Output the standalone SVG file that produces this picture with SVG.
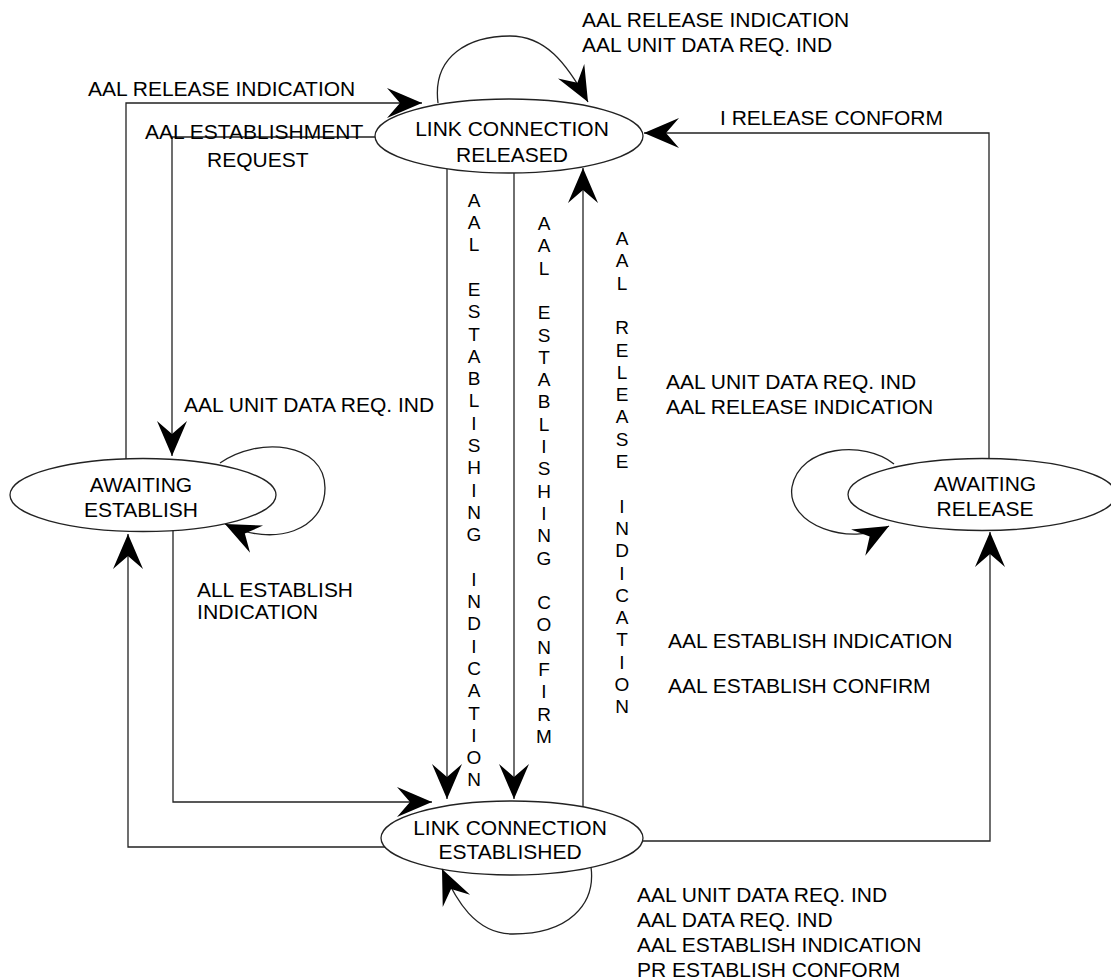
<svg xmlns="http://www.w3.org/2000/svg" width="1111" height="980" viewBox="0 0 1111 980">
<style>
text{font-family:"Liberation Sans",Arial,Helvetica,sans-serif;font-size:21px;fill:#000}
.nt{text-anchor:middle}
.sm{font-size:20px}
.v{font-size:19px;text-anchor:middle}
.node ellipse{fill:#fff;stroke:#222;stroke-width:1.3}
#connectors path{fill:none;stroke:#222;stroke-width:1.3;marker-end:url(#ah)}
</style>
<defs>
<marker id="ah" markerUnits="userSpaceOnUse" markerWidth="40" markerHeight="34" viewBox="-37 -17 40 34" refX="0" refY="0" orient="auto">
<path d="M0,0 L-35,-15 L-22,0 L-35,15 Z" fill="#000"/>
</marker>
</defs>
<rect width="1111" height="980" fill="#fff"/>

<g id="node-released" class="node">
<ellipse cx="509" cy="136" rx="134" ry="37"/>
<text class="nt" x="512" y="136">LINK CONNECTION</text>
<text class="nt" x="512" y="162">RELEASED</text>
</g>
<g id="node-awaiting-establish" class="node">
<ellipse cx="143" cy="495" rx="133" ry="36.5"/>
<text class="nt" x="141" y="492">AWAITING</text>
<text class="nt" x="141" y="517">ESTABLISH</text>
</g>
<g id="node-awaiting-release" class="node">
<ellipse cx="982" cy="494.5" rx="134" ry="36"/>
<text class="nt" x="985" y="491">AWAITING</text>
<text class="nt" x="985" y="516">RELEASE</text>
</g>
<g id="node-established" class="node">
<ellipse cx="512" cy="838" rx="131" ry="37"/>
<text class="nt" x="510" y="835">LINK CONNECTION</text>
<text class="nt" x="510" y="859">ESTABLISHED</text>
</g>

<g id="connectors">
<path d="M126,459 V103 H422"/>
<path d="M375,137 H172 V456"/>
<path d="M438,103 C432,55 470,36 510,36 C545,36 566,62 588,102"/>
<path d="M447,169 V799"/>
<path d="M514,173 V799"/>
<path d="M583,807 V168"/>
<path d="M989,458.6 V133 H644"/>
<path d="M642.6,841 H990 V532"/>
<path d="M385,847 H128 V534"/>
<path d="M173,530.5 V802 H432"/>
<path d="M220,463 C258,436 325,442 325,488 C325,530 275,548 225,524"/>
<path d="M894,464 C865,440 800,445 792,487 C786,525 850,547 889,526"/>
<path d="M591,867 C596,905 568,934 513,934 C475,934 456,900 442,869"/>
</g>

<g id="labels">
<text x="88" y="96">AAL RELEASE INDICATION</text>
<text x="145" y="139">AAL ESTABLISHMENT</text>
<text x="207" y="167">REQUEST</text>
<text x="582" y="27">AAL RELEASE INDICATION</text>
<text x="582" y="52">AAL UNIT DATA REQ. IND</text>
<text x="720" y="125">I RELEASE CONFORM</text>
<text x="184" y="412">AAL UNIT DATA REQ. IND</text>
<text class="sm" x="197" y="597" textLength="156" lengthAdjust="spacingAndGlyphs">ALL ESTABLISH</text>
<text class="sm" x="197" y="619" textLength="121" lengthAdjust="spacingAndGlyphs">INDICATION</text>
<text x="666" y="389">AAL UNIT DATA REQ. IND</text>
<text x="666" y="414">AAL RELEASE INDICATION</text>
<text x="668" y="648">AAL ESTABLISH INDICATION</text>
<text x="668" y="693">AAL ESTABLISH CONFIRM</text>
<text x="637" y="902">AAL UNIT DATA REQ. IND</text>
<text x="637" y="927">AAL DATA REQ. IND</text>
<text x="637" y="952">AAL ESTABLISH INDICATION</text>
<text x="637" y="977">PR ESTABLISH CONFORM</text>

<text class="v" x="474" y="206.7"><tspan x="474">A</tspan><tspan x="474" dy="22.3">A</tspan><tspan x="474" dy="22.3">L</tspan><tspan x="474" dy="44.6">E</tspan><tspan x="474" dy="22.3">S</tspan><tspan x="474" dy="22.3">T</tspan><tspan x="474" dy="22.3">A</tspan><tspan x="474" dy="22.3">B</tspan><tspan x="474" dy="22.3">L</tspan><tspan x="474" dy="22.3">I</tspan><tspan x="474" dy="22.3">S</tspan><tspan x="474" dy="22.3">H</tspan><tspan x="474" dy="22.3">I</tspan><tspan x="474" dy="22.3">N</tspan><tspan x="474" dy="22.3">G</tspan><tspan x="474" dy="44.6">I</tspan><tspan x="474" dy="22.3">N</tspan><tspan x="474" dy="22.3">D</tspan><tspan x="474" dy="22.3">I</tspan><tspan x="474" dy="22.3">C</tspan><tspan x="474" dy="22.3">A</tspan><tspan x="474" dy="22.3">T</tspan><tspan x="474" dy="22.3">I</tspan><tspan x="474" dy="22.3">O</tspan><tspan x="474" dy="22.3">N</tspan></text>

<text class="v" x="544" y="230"><tspan x="544">A</tspan><tspan x="544" dy="22.3">A</tspan><tspan x="544" dy="22.3">L</tspan><tspan x="544" dy="44.6">E</tspan><tspan x="544" dy="22.3">S</tspan><tspan x="544" dy="22.3">T</tspan><tspan x="544" dy="22.3">A</tspan><tspan x="544" dy="22.3">B</tspan><tspan x="544" dy="22.3">L</tspan><tspan x="544" dy="22.3">I</tspan><tspan x="544" dy="22.3">S</tspan><tspan x="544" dy="22.3">H</tspan><tspan x="544" dy="22.3">I</tspan><tspan x="544" dy="22.3">N</tspan><tspan x="544" dy="22.3">G</tspan><tspan x="544" dy="44.6">C</tspan><tspan x="544" dy="22.3">O</tspan><tspan x="544" dy="22.3">N</tspan><tspan x="544" dy="22.3">F</tspan><tspan x="544" dy="22.3">I</tspan><tspan x="544" dy="22.3">R</tspan><tspan x="544" dy="22.3">M</tspan></text>

<text class="v" x="622" y="245"><tspan x="622">A</tspan><tspan x="622" dy="22.3">A</tspan><tspan x="622" dy="22.3">L</tspan><tspan x="622" dy="44.6">R</tspan><tspan x="622" dy="22.3">E</tspan><tspan x="622" dy="22.3">L</tspan><tspan x="622" dy="22.3">E</tspan><tspan x="622" dy="22.3">A</tspan><tspan x="622" dy="22.3">S</tspan><tspan x="622" dy="22.3">E</tspan><tspan x="622" dy="44.6">I</tspan><tspan x="622" dy="22.3">N</tspan><tspan x="622" dy="22.3">D</tspan><tspan x="622" dy="22.3">I</tspan><tspan x="622" dy="22.3">C</tspan><tspan x="622" dy="22.3">A</tspan><tspan x="622" dy="22.3">T</tspan><tspan x="622" dy="22.3">I</tspan><tspan x="622" dy="22.3">O</tspan><tspan x="622" dy="22.3">N</tspan></text>
</g>
</svg>
